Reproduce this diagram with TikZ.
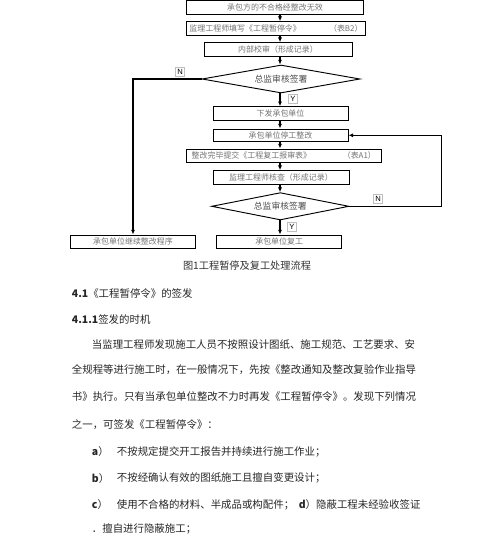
\documentclass[tikz,border=0pt]{standalone}
\usepackage{fontspec}
\setmainfont{Noto Sans CJK SC}
\newfontfamily\lab{Liberation Sans}
\usetikzlibrary{shapes.geometric,arrows.meta}

\begin{document}
\begin{tikzpicture}[x=0.03cm,y=-0.03cm,
   box/.style={rectangle,draw,line width=0.8pt,minimum height=0.4cm,
    inner sep=+0.05cm,font=\fontsize{6.8}{8}\selectfont,text=black!55},
   check/.style={diamond,draw,line width=0.8pt,inner sep=0pt,
    font=\fontsize{7.5}{8}\selectfont,text=black!70},
   arr/.style={-{Latex[length=4pt,width=3.5pt]},line width=1pt},
   yn/.style={draw=black!25,fill=white,inner sep=+1.5pt,
    font=\lab\fontsize{6.5}{7}\selectfont},
   body/.style={anchor=west,inner sep=0pt,font=\fontsize{8.9}{10}\selectfont,
    text=black!85}
    ]

    \useasboundingbox (0,0) rectangle (500,553);
    \coordinate (spine) at (280,0);

    % Boxes:
    \node[box,minimum width=5.30cm,minimum height=0.42cm] at (275,7) (fail)
      {承包方的不合格经整改无效};
    \node[box,minimum width=5.35cm] at (276,28.3) (order)
      {监理工程师填写《工程暂停令》\hspace{24pt}（表B2）};
    \node[box,minimum width=4.44cm] at (278,49.3) (audit)
      {内部校审（形成记录）};
    \node[check,aspect=5.6,minimum width=4.74cm,minimum height=0.84cm]
      at (281,79) (sign1) {总监审核签署};
    \node[box,minimum width=4.05cm,minimum height=0.42cm] at (280.5,113.7) (issue)
      {下发承包单位};
    \node[box,minimum width=4.05cm,minimum height=0.38cm] at (280.5,135.3) (stop)
      {承包单位停工整改};
    \node[box,minimum width=5.83cm,minimum height=0.41cm] at (283.8,155.8) (apply)
      {整改完毕提交《工程复工报审表》\hspace{27pt}（表A1）};
    \node[box,minimum width=4.08cm] at (281,177.3) (verify)
      {监理工程师核查（形成记录）};
    \node[check,aspect=5,minimum width=4.12cm,minimum height=0.82cm]
      at (280.3,206.3) (sign2) {总监审核签署};
    \node[box,minimum width=3.75cm] at (279.2,241.7) (resume)
      {承包单位复工};
    \node[box,minimum width=3.75cm] at (133,241.7) (cont)
      {承包单位继续整改程序};

    % arrows down the middle
    \draw[arr] (fail.south -| spine) -- (order.north -| spine);
    \draw[arr] (order.south -| spine) -- (audit.north -| spine);
    \draw[arr] (audit.south -| spine) -- (sign1.north -| spine);
    \draw[arr] (sign1.south -| spine) -- (issue.north -| spine);
    \draw[arr] (issue.south -| spine) -- (stop.north -| spine);
    \draw[arr] (stop.south -| spine) -- (apply.north -| spine);
    \draw[arr] (apply.south -| spine) -- (verify.north -| spine);
    \draw[arr] (verify.south -| spine) -- (sign2.north -| spine);
    \draw[arr] (sign2.south -| spine) -- (resume.north -| spine);

    % N branches
    \draw[arr] (sign1.west) -| (cont.north);
    \draw[arr] (sign2.east) -- ++(92,0) |- (stop.east);

    % Y / N labels
    \node[yn] at (180,72) (n1) {N};
    \node[yn] at (293,99) (y1) {Y};
    \node[yn] at (378,199) (n2) {N};
    \node[yn] at (292,227) (y2) {Y};

    % caption
    \node[font=\fontsize{8.7}{10}\selectfont,text=black!80] at (247,266) (cap)
      {图1工程暂停及复工处理流程};

    % text below
    \node[body] at (71.7,293.3) (sec) {\textbf{4.1}《工程暂停令》的签发};
    \node[body] at (71.7,319.3) (subsec) {\textbf{4.1.1}签发的时机};
    \node[body] at (91.7,345) (p1)
      {当监理工程师发现施工人员不按照设计图纸、施工规范、工艺要求、安};
    \node[body] at (71.7,370) (p2)
      {全规程等进行施工时，在一般情况下，先按《整改通知及整改复验作业指导};
    \node[body] at (71.7,396.7) (p3)
      {书》执行。只有当承包单位整改不力时再发《工程暂停令》。发现下列情况};
    \node[body] at (71.7,425) (p4) {之一，可签发《工程暂停令》：};
    \node[body] at (91.7,451.7) (ia) {\textbf{a}）};
    \node[body] at (116.7,451.7) (ta) {不按规定提交开工报告并持续进行施工作业；};
    \node[body] at (91.7,478.3) (ib) {\textbf{b}）};
    \node[body] at (116.7,478.3) (tb) {不按经确认有效的图纸施工且擅自变更设计；};
    \node[body] at (91.7,505) (ic) {\textbf{c}）};
    \node[body] at (116.7,505) (tc)
      {使用不合格的材料、半成品或构配件；\hspace{4pt}\textbf{d}）隐蔽工程未经验收签证};
    \node[body] at (91.7,529) (td) {．擅自进行隐蔽施工；};

\end{tikzpicture}
\end{document}
